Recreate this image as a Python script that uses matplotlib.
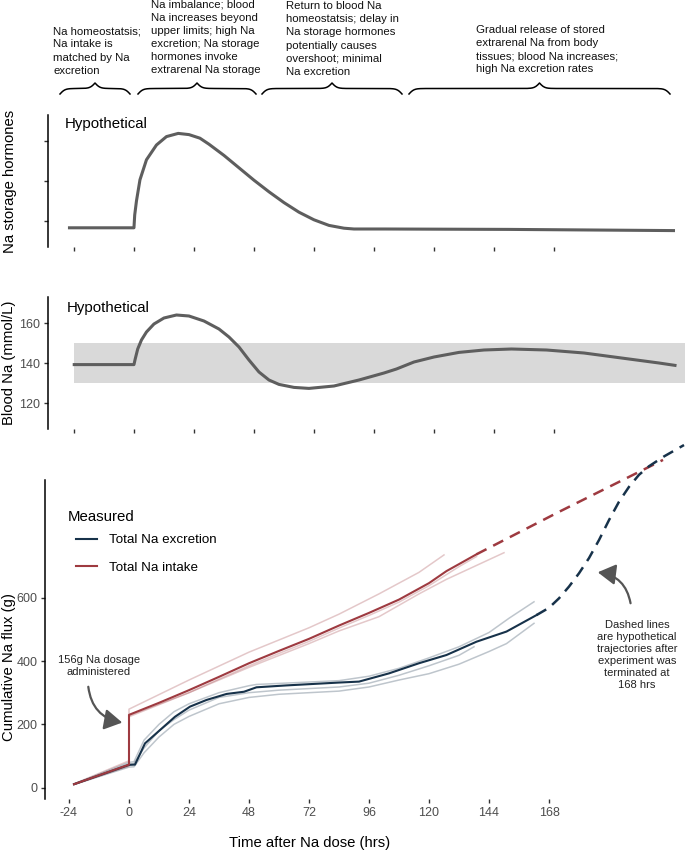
import matplotlib.pyplot as plt
import numpy as np
from matplotlib.lines import Line2D
from matplotlib.patches import FancyArrowPatch

plt.rcParams['font.family'] = ['Liberation Sans', 'DejaVu Sans']

W, H = 685, 852

# hypothetical Na storage hormones (arbitrary units)
hormone_t = [-26.4, 0, 0.3, 1, 2.4, 5, 9, 13, 17.7, 22, 26.4, 30, 36, 42, 48, 54, 60, 66, 72, 78, 84, 88,
             100, 150, 216.4]
hormone_v = [0.83, 0.83, 1.15, 1.5, 2.03, 2.53, 2.9, 3.11, 3.19, 3.16, 3.07, 2.92, 2.64, 2.33, 2.02, 1.73, 1.46,
             1.22, 1.03, 0.89, 0.82, 0.8, 0.8, 0.79, 0.76]

# hypothetical blood Na (mmol/L)
blood_t = [-24.5, 0, 0.5, 1.5, 3, 5, 8, 12, 17, 22, 28, 34, 38, 42, 46, 50, 54, 58, 64, 70, 80, 90, 100, 105,
           112, 120, 130, 140, 151, 165, 180, 195, 210, 217]
blood_v = [139.2, 139.2, 142, 147, 151.5, 155.5, 159.5, 162.5, 164, 163.5, 161, 157, 153, 148, 141.5, 135.5,
           131.5, 129.3, 127.8, 127.3, 128.5, 131.5, 135, 137, 140.5, 143, 145.3, 146.5, 147, 146.5, 145, 142.5,
           140, 138.7]
normal_range = [130, 150]

# measured cumulative Na flux (g)
intake_t = [-22, 0, 0, 12, 24, 36, 48, 60, 72, 84, 96, 108, 120, 127, 132, 139]
intake_v = [11, 73, 230, 268, 308, 350, 393, 432, 470, 512, 552, 594, 646, 684, 706, 737]
intake_ind = [
    ([-22, 0, 0, 24, 48, 72, 84, 100, 116, 126], [12, 85, 248, 340, 428, 505, 548, 612, 680, 735]),
    ([-22, 0, 0, 12, 24, 36, 48, 60, 72, 84, 96, 108, 120, 132, 139],
     [10, 70, 224, 262, 300, 343, 385, 424, 462, 504, 544, 586, 638, 698, 730]),
    ([-22, 0, 0, 24, 48, 72, 84, 100, 116, 127, 150], [10, 68, 228, 300, 380, 455, 495, 540, 612, 658, 742]),
]
excr_t = [-22, 0, 2.4, 6.4, 12.4, 18.4, 24.4, 31, 39, 46, 51, 63, 84, 92, 104, 116, 127, 139, 151, 163]
excr_v = [11, 72, 73, 140, 182, 224, 256, 277, 296, 303, 317, 323, 332, 335, 361, 393, 419, 461, 493, 545]
excr_ind = [
    ([-22, 0, 2, 6, 12, 18, 24, 36, 48, 51, 84, 96, 108, 120, 132, 144, 152, 162],
     [12, 80, 82, 150, 200, 240, 265, 300, 322, 326, 338, 352, 377, 410, 445, 490, 535, 587]),
    ([-22, 0, 2, 6, 12, 18, 24, 36, 48, 60, 84, 96, 108, 120, 132, 138],
     [11, 75, 76, 125, 180, 215, 245, 285, 300, 308, 318, 330, 355, 385, 418, 445]),
    ([-22, 0, 2, 6, 12, 18, 24, 36, 48, 60, 84, 96, 108, 120, 132, 144, 151, 162],
     [10, 65, 66, 110, 160, 200, 225, 265, 285, 295, 305, 318, 340, 360, 390, 430, 455, 519]),
]
# hypothetical trajectories after 168 h
intake_proj_t = [139, 172, 213.6]
intake_proj_v = [737, 871, 1035]
excr_proj_t = [163, 168, 172, 176, 180, 184, 188, 192, 196, 200, 204, 208, 214, 222]
excr_proj_v = [545, 568, 598, 635, 677, 725, 782, 845, 903, 950, 988, 1015, 1046, 1082]

hours = [-24, 0, 24, 48, 72, 96, 120, 144, 168]

phase_text = [
    "Na homeostatsis;\nNa intake is\nmatched by Na\nexcretion",
    "Na imbalance; blood\nNa increases beyond\nupper limits; high Na\nexcretion; Na storage\nhormones invoke\nextrarenal Na storage",
    "Return to blood Na\nhomeostatsis; delay in\nNa storage hormones\npotentially causes\novershoot; minimal\nNa excretion",
    "Gradual release of stored\nextrarenal Na from body\ntissues; blood Na increases;\nhigh Na excretion rates",
]

RED = '#9e3a40'
NAVY = '#17324a'
GREY = '#5e5e5e'


def fx(x):
    return x / W


def fy(y):
    return 1 - y / H


def style(ax):
    for s in ['top', 'right', 'bottom']:
        ax.spines[s].set_visible(False)
    ax.spines['left'].set_linewidth(1.1)
    ax.tick_params(length=3, width=1.0, color='#333333', labelsize=9, labelcolor='#4d4d4d', pad=2.5)
    ax.set_xticks(hours)


fig = plt.figure(figsize=(6.85, 8.52), dpi=100)

# top panel
ax1 = fig.add_axes([fx(47.7), fy(247), fx(685 - 47.7), 132 / H])
ax1.plot(hormone_t, hormone_v, color=GREY, lw=2.2, solid_capstyle='butt')
ax1.set_xlim(-34.5, 220.4)
ax1.set_ylim(0.35, 3.65)
style(ax1)
ax1.set_yticks([1, 2, 3])
ax1.set_yticklabels([])
ax1.set_xticklabels([])
ax1.text(fx(65), fy(124), "Hypothetical", transform=fig.transFigure, fontsize=10.8, va='center')

# middle panel
ax2 = fig.add_axes([fx(47.7), fy(429), fx(685 - 47.7), 132 / H])
ax2.fill_between([-24, 220.4], normal_range[0], normal_range[1], color='#d9d9d9', lw=0)
ax2.plot(blood_t, blood_v, color=GREY, lw=2.2, solid_capstyle='butt')
ax2.set_xlim(-34.5, 220.4)
ax2.set_ylim(107, 173)
style(ax2)
ax2.set_yticks([120, 140, 160])
ax2.set_xticklabels([])
ax2.text(fx(67), fy(308), "Hypothetical", transform=fig.transFigure, fontsize=10.8, va='center')

# bottom panel
ax3 = fig.add_axes([fx(45), fy(799), fx(685 - 45), 319 / H])
for t, v in intake_ind:
    ax3.plot(t, v, color=RED, alpha=0.28, lw=1.1)
for t, v in excr_ind:
    ax3.plot(t, v, color=NAVY, alpha=0.28, lw=1.1)
ax3.plot(excr_t, excr_v, color=NAVY, lw=1.5, label='Total Na excretion')
ax3.plot(intake_t, intake_v, color=RED, lw=1.5, label='Total Na intake')
ax3.plot(intake_proj_t, intake_proj_v, color=RED, lw=1.8, ls=(0, (4.5, 3)), clip_on=False)
ax3.plot(excr_proj_t, excr_proj_v, color=NAVY, lw=1.8, ls=(0, (4.5, 3)), clip_on=False)
ax3.set_xlim(-33.6, 222.4)
ax3.set_ylim(-35.7, 971.6)
style(ax3)
ax3.set_yticks([0, 200, 400, 600])
ax3.set_xticklabels([str(h) for h in hours])

ax3.legend(loc='upper left', bbox_to_anchor=(fx(76), fy(534)), bbox_transform=fig.transFigure,
           frameon=False, fontsize=9.6, borderpad=0, borderaxespad=0, handlelength=1.6,
           handletextpad=0.9, labelspacing=1.15)
fig.text(fx(68), fy(517), "Measured", fontsize=10.8, va='center')

# axis titles
fig.text(fx(10), fy(181), "Na storage hormones", rotation=90, fontsize=10.7, ha='center', va='center')
fig.text(fx(9), fy(363), "Blood Na (mmol/L)", rotation=90, fontsize=10.7, ha='center', va='center')
fig.text(fx(9), fy(667), "Cumulative Na flux (g)", rotation=90, fontsize=10.7, ha='center', va='center')
fig.text(fx(310), fy(843), "Time after Na dose (hrs)", fontsize=10.7, ha='center', va='center')

# annotations
fig.text(fx(99), fy(666), "156g Na dosage\nadministered", fontsize=8, ha='center', va='center', color='#222222')
fig.add_artist(FancyArrowPatch((fx(88), fy(684)), (fx(125), fy(723)), transform=fig.transFigure,
                               connectionstyle='arc3,rad=0.4', arrowstyle='-|>,head_length=0.6,head_width=0.35',
                               mutation_scale=18, color='#555555', lw=1.6))
fig.text(fx(637), fy(655), "Dashed lines\nare hypothetical\ntrajectories after\nexperiment was\nterminated at\n168 hrs",
         fontsize=8, ha='center', va='center', color='#222222', linespacing=1.25)
fig.add_artist(FancyArrowPatch((fx(631), fy(606)), (fx(595), fy(572)), transform=fig.transFigure,
                               connectionstyle='arc3,rad=0.4', arrowstyle='-|>,head_length=0.6,head_width=0.35',
                               mutation_scale=18, color='#555555', lw=1.6))

# phase descriptions with braces
text_pos = [(53, 51), (151, 37.5), (286, 39), (476, 49.5)]
brace_pos = [(60, 130), (138, 256), (262, 402), (409, 670)]
for txt, (tx, ty) in zip(phase_text, text_pos):
    fig.text(fx(tx), fy(ty), txt, fontsize=8.2, ha='left', va='center', linespacing=1.38, color='#111111')
for x0, x1 in brace_pos:
    w = (x1 - x0) / 2
    u = np.linspace(0, w, 150)
    s = 1 / (1 + np.exp(-0.4 * u)) + 1 / (1 + np.exp(-0.4 * (u - w))) - 0.5
    xs = np.concatenate([x0 + u, x1 - u[::-1]])
    ys = np.concatenate([94 - 11 * s, 94 - 11 * s[::-1]])
    fig.add_artist(Line2D(fx(xs), fy(ys), transform=fig.transFigure, color='black', lw=1.1))

fig.savefig('out.png', dpi=100)
